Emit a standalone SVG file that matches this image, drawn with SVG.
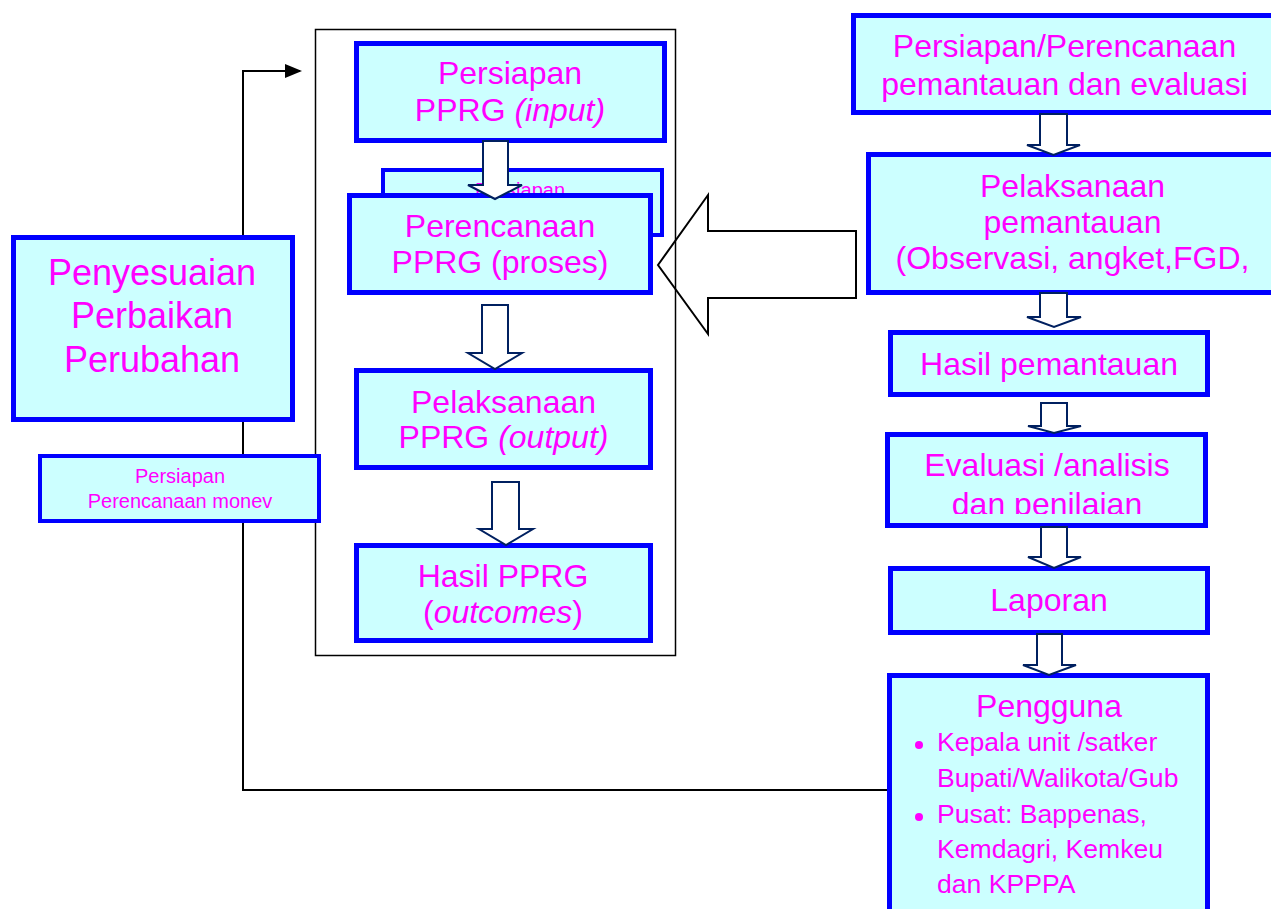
<svg xmlns="http://www.w3.org/2000/svg" width="1271" height="909" viewBox="0 0 1271 909">
<style>
.box{fill:#CCFFFF;stroke:#0000FF;stroke-width:5}
.sbox{fill:#CCFFFF;stroke:#0000FF;stroke-width:4}
.t{font-family:"Liberation Sans",Arial,sans-serif;fill:#FF00FF;text-anchor:middle}
.tl{font-family:"Liberation Sans",Arial,sans-serif;fill:#FF00FF}
.f32{font-size:32px}
.f36{font-size:36px}
.f20{font-size:20px}
.f26{font-size:26.6px}
.i{font-style:italic}
.barrow{fill:#FFFFFF;stroke:#002060;stroke-width:2;stroke-linejoin:miter}
.line{fill:none;stroke:#000000;stroke-width:2}
</style>
<defs>
<clipPath id="clipR4"><rect x="885" y="430" width="330" height="84"/></clipPath>
</defs>
<rect width="1271" height="909" fill="#FFFFFF"/>

<g id="connectors">
<polyline class="line" points="887,790 243,790 243,71 300,71"/>
<polygon points="285,64 302,71 285,78" fill="#000"/>
</g>

<g id="container">
<rect x="315.5" y="29.5" width="360" height="626" fill="none" stroke="#000" stroke-width="1.5"/>
</g>

<g id="node-penyesuaian">
<rect class="box" x="13.5" y="237.5" width="279" height="182"/>
<text class="t f36" x="152" y="285">Penyesuaian</text>
<text class="t f36" x="152" y="328">Perbaikan</text>
<text class="t f36" x="152" y="372">Perubahan</text>
</g>

<g id="node-monev">
<rect class="sbox" x="40" y="456" width="279" height="65"/>
<text class="t f20" x="180" y="483">Persiapan</text>
<text class="t f20" x="180" y="508">Perencanaan monev</text>
</g>

<g id="node-persiapan-pprg">
<rect class="box" x="356.5" y="43.5" width="308" height="97"/>
<text class="t f32" x="510" y="84">Persiapan</text>
<text class="t f32" x="510" y="121">PPRG <tspan class="i">(input)</tspan></text>
</g>

<g id="node-hidden">
<rect class="sbox" x="383" y="170" width="279" height="65"/>
<text class="t f20" x="520" y="197">Persiapan</text>
</g>

<g id="node-perencanaan-pprg">
<rect class="box" x="349.5" y="195.5" width="301" height="97"/>
<text class="t f32" x="500" y="237">Perencanaan</text>
<text class="t f32" x="500" y="273">PPRG (proses)</text>
</g>

<g id="node-pelaksanaan-pprg">
<rect class="box" x="356.5" y="370.5" width="294" height="97"/>
<text class="t f32" x="503.5" y="413">Pelaksanaan</text>
<text class="t f32" x="503.5" y="448">PPRG <tspan class="i">(output)</tspan></text>
</g>

<g id="node-hasil-pprg">
<rect class="box" x="356.5" y="545.5" width="294" height="95"/>
<text class="t f32" x="503" y="587">Hasil PPRG</text>
<text class="t f32" x="503" y="623">(<tspan class="i">outcomes</tspan>)</text>
</g>

<g id="node-r1">
<rect class="box" x="853.5" y="15.5" width="430" height="97"/>
<text class="t f32" x="1064.5" y="57">Persiapan/Perencanaan</text>
<text class="t f32" x="1064.5" y="95">pemantauan dan evaluasi</text>
</g>

<g id="node-r2">
<rect class="box" x="868.5" y="154.5" width="420" height="138"/>
<text class="t f32" x="1072.5" y="197">Pelaksanaan</text>
<text class="t f32" x="1072.5" y="233">pemantauan</text>
<text class="t f32" x="1072.5" y="269">(Observasi, angket,FGD,</text>
</g>

<g id="node-r3">
<rect class="box" x="890.5" y="332.5" width="317" height="62"/>
<text class="t f32" x="1049" y="375">Hasil pemantauan</text>
</g>

<g id="node-r4">
<rect class="box" x="887.5" y="434.5" width="318" height="91"/>
<g clip-path="url(#clipR4)">
<text class="t f32" x="1047" y="476">Evaluasi /analisis</text>
<text class="t f32" x="1047" y="515">dan penilaian</text>
</g>
</g>

<g id="node-r5">
<rect class="box" x="890.5" y="568.5" width="317" height="64"/>
<text class="t f32" x="1049" y="611">Laporan</text>
</g>

<g id="node-r6">
<rect class="box" x="889.5" y="675.5" width="318" height="260"/>
<text class="t f32" x="1049" y="717">Pengguna</text>
<circle cx="919" cy="745" r="4" fill="#FF00FF"/>
<text class="tl f26" x="937" y="751">Kepala unit /satker</text>
<text class="tl f26" x="937" y="787">Bupati/Walikota/Gub</text>
<circle cx="919" cy="817" r="4" fill="#FF00FF"/>
<text class="tl f26" x="937" y="823">Pusat: Bappenas,</text>
<text class="tl f26" x="937" y="858">Kemdagri, Kemkeu</text>
<text class="tl f26" x="937" y="893">dan KPPPA</text>
</g>

<g id="block-arrows">
<polygon class="barrow" points="483,141 483,185 468,185 495,199 522,185 508,185 508,141"/>
<polygon class="barrow" points="482,305 482,353 468,353 495,369 522,353 508,353 508,305"/>
<polygon class="barrow" points="492,482 492,529 479,529 506,545 533,529 519,529 519,482"/>
<polygon class="barrow" points="1040,114 1040,145 1027,145 1053.5,155 1080,145 1067,145 1067,114"/>
<polygon class="barrow" points="1040,293 1040,317 1027,317 1054,327 1081,317 1067,317 1067,293"/>
<polygon class="barrow" points="1041,403 1041,426 1028,426 1054,433 1081,426 1067,426 1067,403"/>
<polygon class="barrow" points="1041,527 1041,557 1028,557 1054,568 1081,557 1067,557 1067,527"/>
<polygon class="barrow" points="1037,634 1037,665 1023,665 1049,675 1076,665 1062,665 1062,634"/>
<polygon points="658,265 708,195 708,231 856,231 856,298 708,298 708,334" fill="none" stroke="#000" stroke-width="2"/>
</g>
</svg>
